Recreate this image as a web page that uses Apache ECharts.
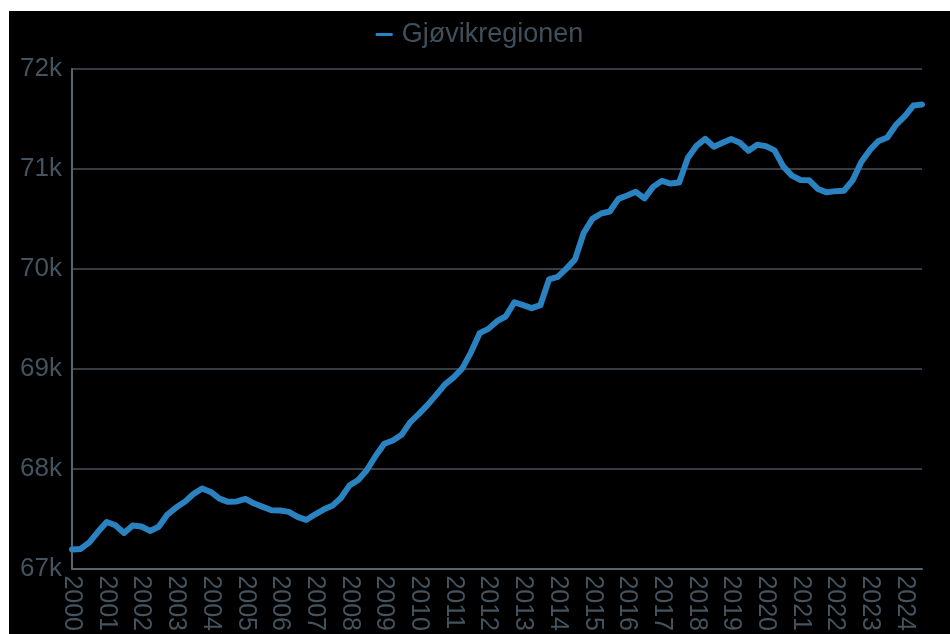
<!DOCTYPE html>
<html>
<head>
<meta charset="utf-8">
<script src="https://cdn.jsdelivr.net/npm/echarts@6/dist/echarts.min.js"></script>
<style>
    html, body { margin: 0; padding: 0; background: #fff; }
    #main { position: absolute; left: 9px; top: 11px; width: 941px; height: 623px; }
</style>
</head>
<body>
<div id="main"></div>
<script>
// kvartal 2000K1 - 2024K3
var years = [];
for (var y = 2000; y <= 2024; y++) { years.push(y); }
var quarters = ['K1', 'K2', 'K3', 'K4'];
var categories = [];
years.forEach(function (yr) {
    quarters.forEach(function (q) {
        if (categories.length < 99) categories.push(yr + q);
    });
});

var seriesName = 'Gjøvikregionen';
var population = [
    67190, 67195, 67260, 67366, 67465, 67432, 67355, 67430,
    67419, 67375, 67416, 67539, 67609, 67666, 67745, 67800,
    67765, 67699, 67666, 67670, 67695, 67649, 67616, 67582,
    67579, 67566, 67516, 67485, 67539, 67589, 67626, 67705,
    67831, 67885, 67985, 68125, 68248, 68281, 68337, 68464,
    68547, 68637, 68737, 68843, 68913, 69003, 69163, 69355,
    69398, 69475, 69522, 69665, 69635, 69605, 69635, 69894,
    69918, 70001, 70094, 70360, 70500, 70553, 70573, 70700,
    70733, 70770, 70705, 70820, 70880, 70853, 70863, 71108,
    71231, 71301, 71222, 71261, 71298, 71261, 71182, 71241,
    71228, 71185, 71025, 70932, 70889, 70885, 70799, 70765,
    70777, 70781, 70885, 71069, 71190, 71280, 71315, 71440,
    71525, 71634, 71645
];
var yTicks = [67000, 68000, 69000, 70000, 71000, 72000];

var font = '"Liberation Sans", Arial, sans-serif';
var labelColor = '#44535e';

var myChart = echarts.init(document.getElementById('main'));
var option = {
    backgroundColor: '#000',
    animation: false,
    legend: {
        data: [seriesName],
        top: 5,
        left: 'center',
        icon: 'rect',
        itemWidth: 17,
        itemHeight: 3,
        itemGap: 10,
        textStyle: { color: '#3f4f5b', fontSize: 27, fontFamily: font, padding: [0, 0, 0, 4] }
    },
    grid: { left: 63, right: 28, top: 58, bottom: 64, containLabel: false },
    xAxis: {
        type: 'category',
        data: categories,
        boundaryGap: false,
        axisLine: { lineStyle: { color: '#56656f', width: 2 } },
        axisTick: { show: false },
        axisLabel: {
            interval: 3,
            rotate: -90,
            margin: 7,
            color: labelColor,
            fontSize: 25,
            fontFamily: font,
            formatter: function (v) { return v.slice(0, 4); }
        },
        splitLine: { show: false }
    },
    yAxis: {
        type: 'value',
        min: yTicks[0],
        max: yTicks[yTicks.length - 1],
        interval: 1000,
        axisLine: { show: true, lineStyle: { color: '#56656f', width: 2 } },
        axisTick: { show: false },
        axisLabel: {
            margin: 10,
            color: labelColor,
            fontSize: 26,
            fontFamily: font,
            formatter: function (v) { return (v / 1000) + 'k'; }
        },
        splitLine: { lineStyle: { color: '#4b5259', width: 1.5 } }
    },
    series: [{
        name: seriesName,
        type: 'line',
        data: population,
        symbol: 'none',
        color: '#2a82c0',
        lineStyle: { width: 6, color: '#2a82c0', join: 'round', cap: 'round' }
    }]
};
myChart.setOption(option);
</script>
</body>
</html>
